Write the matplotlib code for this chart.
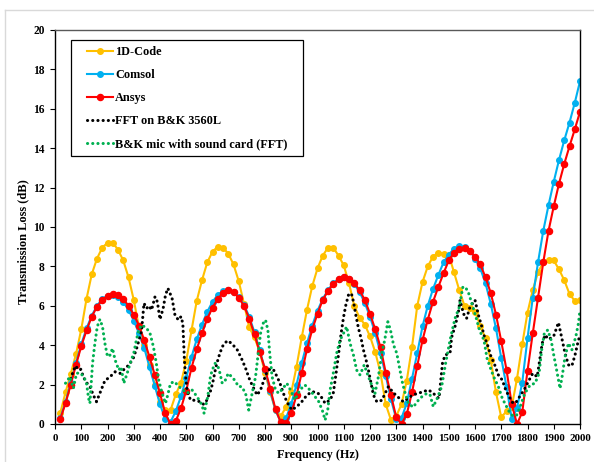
import numpy as np
import matplotlib
matplotlib.use('Agg')
import matplotlib.pyplot as plt
from matplotlib.lines import Line2D
from matplotlib.patches import Rectangle

plt.rcParams['font.family'] = ['Liberation Serif', 'DejaVu Serif']
plt.rcParams['font.weight'] = 'bold'

# simulated curves, every 20 Hz
freq = np.arange(20, 2001, 20)

code1d = [0.55, 1.6, 2.55, 3.55, 4.8, 6.35, 7.6, 8.4, 8.95, 9.2,
          9.2, 8.85, 8.3, 7.45, 6.3, 4.9, 4.0, 3.0, 2.0, 1.1,
          0.7, 0.7, 1.5, 2.1, 3.2, 4.75, 6.25, 7.3, 8.2, 8.75,
          9.0, 8.95, 8.65, 8.1, 7.25, 6.1, 4.9, 4.4, 3.65, 2.6,
          1.6, 0.7, 0.4, 0.85, 1.6, 2.9, 4.4, 5.8, 7.0, 7.9,
          8.55, 8.95, 8.95, 8.55, 8.05, 7.15, 6.0, 5.4, 5.05, 4.45,
          3.65, 2.6, 1.0, 0.2, 0.4, 1.0, 2.2, 3.9, 6.0, 7.2,
          8.0, 8.5, 8.7, 8.65, 8.6, 7.7, 6.8, 6.0, 5.9, 5.7,
          5.0, 4.35, 3.25, 1.6, 0.34, 0.65, 0.88, 2.3, 4.05, 5.65,
          6.8, 7.7, 8.2, 8.35, 8.3, 7.85, 7.3, 6.6, 6.25, 6.3]

comsol = [0.3, 1.1, 2.1, 3.1, 4.05, 4.85, 5.5, 6.0, 6.35, 6.5,
          6.55, 6.45, 6.2, 5.8, 5.25, 4.6, 3.85, 2.9, 1.95, 1.0,
          0.25, 0.1, 0.65, 1.4, 2.35, 3.4, 4.3, 5.05, 5.7, 6.2,
          6.55, 6.75, 6.8, 6.7, 6.45, 6.05, 5.45, 4.65, 3.75, 2.75,
          1.65, 0.7, 0.1, 0.3, 1.0, 2.0, 3.1, 4.1, 5.0, 5.75,
          6.35, 6.8, 7.15, 7.35, 7.45, 7.35, 7.1, 6.7, 6.15, 5.45,
          4.6, 3.6, 2.45, 1.25, 0.25, 0.3, 1.05, 2.3, 3.6, 4.95,
          6.0, 6.85, 7.55, 8.2, 8.6, 8.9, 9.05, 9.0, 8.8, 8.4,
          7.9, 7.15, 6.1, 4.85, 3.35, 1.9, 0.25, 0.8, 2.1, 4.35,
          6.4, 8.2, 9.8, 11.1, 12.3, 13.4, 14.4, 15.3, 16.3, 17.4]

ansys = [0.25, 1.05, 2.0, 3.0, 3.95, 4.75, 5.45, 5.95, 6.3, 6.5,
         6.6, 6.55, 6.35, 6.0, 5.55, 5.0, 4.25, 3.4, 2.5, 1.55,
         0.55, 0.0, 0.15, 0.8, 1.7, 2.85, 3.8, 4.6, 5.35, 5.9,
         6.35, 6.65, 6.8, 6.7, 6.4, 6.0, 5.35, 4.55, 3.65, 2.8,
         1.8, 0.75, 0.08, 0.07, 0.55, 1.45, 2.6, 3.8, 4.8, 5.6,
         6.3, 6.75, 7.1, 7.35, 7.45, 7.35, 7.15, 6.8, 6.3, 5.6,
         4.8, 3.9, 2.6, 1.45, 0.35, 0.0, 0.5, 1.6, 2.95, 4.25,
         5.3, 6.2, 6.95, 7.65, 8.3, 8.7, 8.9, 8.95, 8.8, 8.5,
         8.1, 7.45, 6.65, 5.55, 4.2, 2.75, 1.0, 0.0, 0.6, 2.7,
         4.6, 6.4, 8.2, 9.8, 11.05, 12.2, 13.2, 14.1, 14.95, 15.85]

# FFT on B&K 3560L
bk_freq = [60, 70, 78, 90, 98, 108, 117, 133, 146, 158,
           171, 190, 210, 229, 248, 265, 282, 298, 313, 330,
           339, 349, 358, 368, 381, 390, 400, 412, 421, 430,
           446, 457, 470, 480, 487, 493, 497, 503, 516, 533,
           553, 566, 578, 594, 603, 613, 624, 637, 650, 660,
           679, 695, 713, 726, 742, 757, 770, 783, 796, 808,
           820, 833, 846, 857, 870, 883, 902, 921, 940, 960,
           979, 998, 1010, 1029, 1048, 1060, 1069, 1079, 1090, 1099,
           1108, 1118, 1129, 1137, 1146, 1156, 1166, 1175, 1185, 1194,
           1204, 1213, 1226, 1245, 1270, 1289, 1308, 1327, 1345, 1362,
           1384, 1403, 1422, 1438, 1454, 1463, 1470, 1476, 1486, 1505,
           1511, 1525, 1537, 1543, 1556, 1568, 1581, 1600, 1613, 1626,
           1636, 1648, 1661, 1673, 1689, 1704, 1717, 1730, 1742, 1754,
           1770, 1787, 1803, 1820, 1837, 1846, 1856, 1867, 1880, 1899,
           1918, 1930, 1943, 1956, 1969, 1981, 1994, 2000]
bk_tl = [2.3, 2.7, 2.95, 2.75, 2.78, 2.4, 2.15, 1.9, 1.47, 1.13,
         1.57, 2.2, 2.4, 2.65, 2.57, 2.8, 3.0, 3.33, 3.92, 4.77,
         6.13, 5.87, 6.0, 5.79, 6.46, 6.2, 5.31, 5.87, 6.55, 6.89,
         6.38, 5.53, 5.28, 5.45, 5.1, 3.25, 2.5, 1.73, 1.22, 1.2,
         1.13, 1.0, 1.2, 1.73, 2.23, 2.9, 3.42, 3.92, 4.15, 4.23,
         4.0, 3.75, 3.25, 2.83, 2.23, 1.81, 1.47, 1.73, 2.23, 2.65,
         2.8, 2.74, 2.4, 2.07, 1.56, 1.13, 0.71, 0.88, 1.13, 1.47,
         1.64, 1.6, 1.47, 1.05, 1.22, 1.56, 2.4, 3.42, 4.6, 5.41,
         6.04, 6.55, 6.63, 6.21, 5.53, 4.86, 4.35, 3.76, 3.25, 2.74,
         2.07, 1.47, 1.13, 1.2, 1.9, 1.59, 1.35, 1.13, 1.3, 1.47,
         1.56, 1.64, 1.73, 1.6, 1.39, 1.3, 2.23, 3.08, 3.5, 3.6,
         4.4, 5.0, 5.7, 6.29, 5.6, 5.36, 5.95, 6.29, 5.53, 4.94,
         4.43, 4.0, 3.42, 3.08, 2.49, 2.23, 1.73, 1.39, 1.1, 1.05,
         1.39, 1.73, 2.15, 2.57, 2.4, 3.2, 4.1, 4.52, 4.3, 4.43,
         5.15, 4.4, 3.59, 3.0, 2.95, 3.5, 4.26, 4.47]

# B&K mic with sound card (FFT)
sc_freq = [40, 57, 70, 82, 95, 110, 120, 128, 133, 143,
           152, 161, 171, 181, 190, 200, 210, 219, 229, 243,
           252, 262, 275, 286, 300, 310, 319, 330, 349, 362,
           375, 386, 395, 408, 421, 430, 440, 455, 472, 490,
           503, 522, 541, 560, 568, 582, 592, 599, 610, 624,
           637, 648, 660, 673, 686, 699, 711, 726, 738, 751,
           764, 773, 783, 793, 802, 811, 818, 827, 840, 852,
           868, 883, 898, 914, 933, 952, 971, 986, 1005, 1020,
           1029, 1039, 1048, 1060, 1073, 1086, 1099, 1111, 1124, 1137,
           1149, 1162, 1178, 1194, 1209, 1219, 1232, 1245, 1256, 1268,
           1278, 1290, 1302, 1314, 1324, 1334, 1346, 1365, 1379, 1398,
           1417, 1429, 1441, 1456, 1473, 1488, 1505, 1518, 1526, 1539,
           1554, 1566, 1576, 1592, 1605, 1617, 1634, 1646, 1659, 1671,
           1689, 1704, 1717, 1730, 1745, 1759, 1772, 1790, 1810, 1829,
           1844, 1854, 1864, 1877, 1890, 1900, 1911, 1924, 1933, 1943,
           1956, 1969, 1984, 1994, 2000]
sc_tl = [2.07, 2.4, 1.81, 2.57, 2.6, 2.4, 2.07, 1.3, 1.05, 3.08,
         4.1, 4.94, 5.31, 4.94, 4.1, 3.42, 3.5, 3.84, 3.25, 2.74,
         2.9, 2.07, 2.57, 3.08, 3.59, 4.26, 4.77, 5.03, 4.86, 4.6,
         3.92, 3.08, 2.23, 1.56, 1.05, 1.5, 2.07, 2.15, 1.9, 1.7,
         1.56, 1.73, 1.39, 0.96, 0.54, 1.39, 2.4, 2.74, 3.08, 2.83,
         2.07, 2.2, 2.57, 2.4, 2.2, 1.9, 1.9, 1.56, 0.71, 1.56,
         2.4, 3.42, 4.6, 5.11, 5.28, 4.77, 3.59, 2.4, 1.73, 1.56,
         1.8, 2.07, 1.7, 1.22, 1.73, 1.98, 1.73, 1.47, 1.13, 0.63,
         0.2, 0.71, 1.73, 2.57, 3.59, 4.26, 4.6, 4.94, 4.1, 3.5,
         2.74, 2.49, 3.0, 2.4, 1.9, 1.56, 2.4, 3.59, 4.26, 5.19,
         4.77, 4.0, 3.59, 2.74, 2.07, 1.56, 1.05, 0.85, 1.13, 1.39,
         1.56, 1.47, 0.88, 1.3, 1.9, 3.08, 4.26, 5.03, 5.45, 5.87,
         6.97, 6.89, 6.63, 5.95, 5.36, 4.77, 4.26, 3.33, 2.83, 2.4,
         1.9, 1.3, 0.96, 0.63, 0.4, 0.46, 0.88, 1.56, 1.98, 2.07,
         2.57, 3.76, 4.6, 4.77, 4.26, 3.5, 2.74, 1.8, 2.5, 3.42,
         4.1, 3.76, 4.43, 5.11, 5.79]

W, H = 594, 462
fig = plt.figure(figsize=(W / 100, H / 100), dpi=100)
ax = fig.add_axes([55 / W, 1 - 424 / H, 525 / W, 394 / H])

dots = (0, (0.05, 1.65))
ax.plot(freq, code1d, color='#FFC000', lw=1.5, marker='o', ms=4, label='1D-Code')
ax.plot(freq, comsol, color='#00B0F0', lw=1.5, marker='o', ms=4, label='Comsol')
ax.plot(freq, ansys, color='#FF0000', lw=1.5, marker='o', ms=4.4, label='Ansys')
ax.plot(bk_freq, bk_tl, color='black', lw=2.2, linestyle=dots,
        dash_capstyle='round', label='FFT on B&K 3560L')
ax.plot(sc_freq, sc_tl, color='#00B050', lw=2.2, linestyle=dots,
        dash_capstyle='round', label='B&K mic with sound card (FFT)')

ax.set_xlim(0, 2000)
ax.set_ylim(0, 20)
ax.set_xticks(np.arange(0, 2001, 100))
ax.set_yticks(np.arange(0, 21, 2))
ax.tick_params(direction='out', length=3.5, width=0.8)
ax.tick_params(axis='x', labelsize=7.9, pad=4)
ax.tick_params(axis='y', labelsize=8.3, pad=4)
for lab in ax.get_xticklabels() + ax.get_yticklabels():
    lab.set_fontweight('bold')

for s in ['left', 'bottom', 'right']:
    ax.spines[s].set_color('black')
    ax.spines[s].set_linewidth(1.0)
ax.spines['top'].set_color('#595959')
ax.spines['top'].set_linewidth(1.0)

ax.set_xlabel('Frequency (Hz)', fontsize=8.8, fontweight='bold')
ax.xaxis.set_label_coords(0.5, -0.078)
ax.xaxis.label.set_va('center')
ax.set_ylabel('Transmission Loss (dB)', fontsize=9, fontweight='bold')
ax.yaxis.set_label_coords(-0.061, 0.464)
ax.yaxis.label.set_va('center')

# legend without its own frame; box drawn separately with wider side padding
leg = ax.legend(loc='upper left', bbox_to_anchor=((87 - 55) / 525, (424 - 46) / 394),
                fontsize=8.8, frameon=False, handlelength=2.1, handletextpad=0.2,
                labelspacing=0.9, borderpad=0, borderaxespad=0)
for t in leg.get_texts():
    t.set_fontweight('bold')

ax.set_zorder(2)
ax.patch.set_alpha(0)
fig.canvas.draw()
bb = leg.get_window_extent()
padx, pady = 16, 6
fig.add_artist(Rectangle(((bb.x0 - padx) / W, (bb.y0 - pady) / H),
                         (bb.width + 2 * padx) / W, (bb.height + 2 * pady) / H,
                         transform=fig.transFigure, facecolor='white',
                         edgecolor='black', lw=0.9, zorder=1))

# light outer chart border
fig.add_artist(Line2D([5 / W, 1], [1 - 10 / H, 1 - 10 / H], color='#D9D9D9', lw=1,
                      transform=fig.transFigure))
fig.add_artist(Line2D([5 / W, 5 / W], [0, 1 - 10 / H], color='#D9D9D9', lw=1,
                      transform=fig.transFigure))

fig.savefig('out.png', dpi=100)
